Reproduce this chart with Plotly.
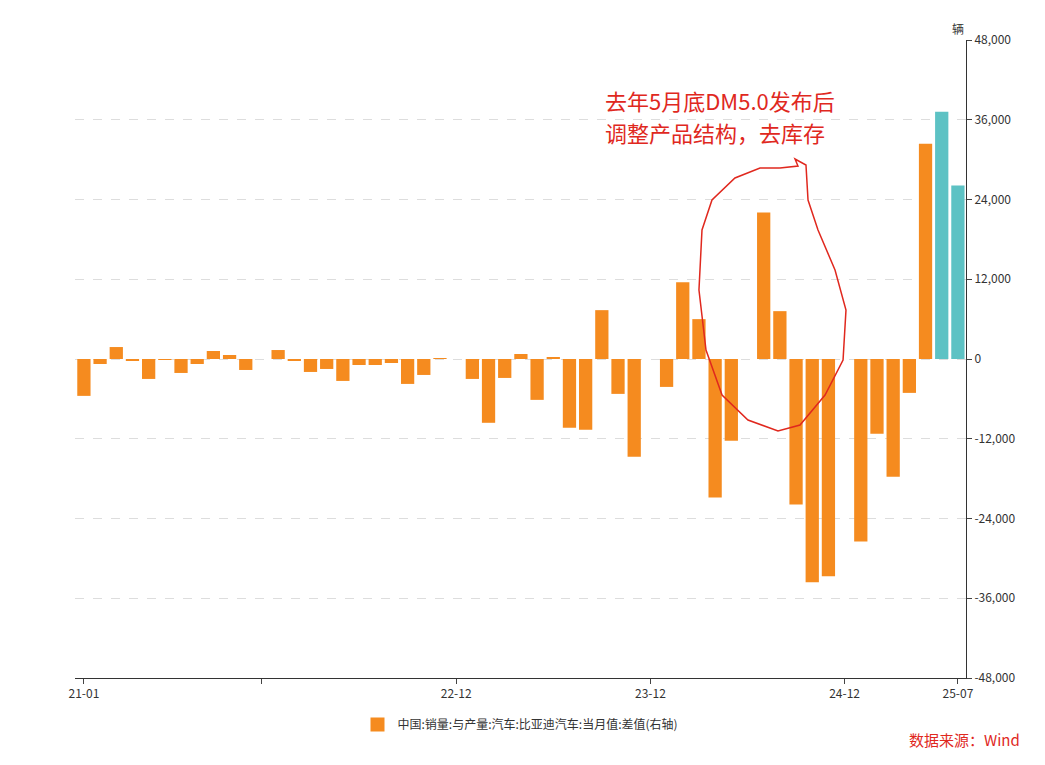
import plotly.graph_objects as go

months = []
for y in range(21, 26):
    for m in range(1, 13):
        months.append(f"{y:02d}-{m:02d}")
months = months[:55]
values = [-5550, -750, 1800, -300, -3000, -100, -2100, -750, 1200, 600, -1650, 0,
          1350, -300, -1950, -1500, -3300, -900, -900, -600, -3750, -2400, 150, 0,
          -3000, -9600, -2850, 750, -6150, 300, -10350, -10650, 7350, -5250, -14700, 0,
          -4200, 11550, 6000, -20850, -12300, 0, 22050, 7200, -21900, -33600, -32700, 0,
          -27450, -11250, -17700, -5100, 32400, 37200, 26100]
colors = ["#F58B1F"] * 53 + ["#5DC2C4"] * 2
tick_idx = [0, 11, 23, 35, 47, 54]
tick_text = ["21-01", "", "22-12", "23-12", "24-12", "25-07"]
y_ticks = list(range(-48000, 48001, 12000))

font = "Noto Sans CJK SC"
fig = go.Figure()
fig.add_bar(x=list(range(len(values))), y=values, marker_color=colors, marker_line_width=0,
            width=0.82, name="中国:销量:与产量:汽车:比亚迪汽车:当月值:差值(右轴)",
            showlegend=False)
fig.add_scatter(x=[None], y=[None], mode="markers",
                marker=dict(symbol="square", size=14, color="#F58B1F"),
                name="中国:销量:与产量:汽车:比亚迪汽车:当月值:差值(右轴)")

W, H = 1045, 765
OFF = 8
L, R, T, B = 75, 966, 40, 678
def px(x, y):
    return (x - L) / (R - L), (B - y) / (B - T)
pts = [(780, 168), (798, 166), (795, 159), (806, 165), (808, 200), (818, 230), (835, 270),
       (846, 310), (843, 360), (825, 395), (800, 425), (778, 431), (748, 420), (722, 395),
       (706, 350), (699, 290), (702, 230), (712, 200), (735, 178), (760, 168), (780, 168)]
path = "M " + " L ".join(f"{px(a,b)[0]:.4f},{px(a,b)[1]:.4f}" for a, b in pts)
fig.add_shape(type="path", path=path, xref="paper", yref="paper",
              line=dict(color="#E0281E", width=1.5))

fig.add_annotation(x=px(603, 0)[0], y=px(0, 100)[1], xref="paper", yref="paper",
                   text="去年5月底DM5.0发布后", showarrow=False,
                   xanchor="left", yanchor="middle", align="left",
                   font=dict(size=22, color="#E0281E", family=font))
fig.add_annotation(x=px(603, 0)[0], y=px(0, 132)[1], xref="paper", yref="paper",
                   text="调整产品结构，去库存", showarrow=False,
                   xanchor="left", yanchor="middle", align="left",
                   font=dict(size=22, color="#E0281E", family=font))
fig.add_annotation(x=px(966, 0)[0], y=px(0, 18)[1], xref="paper", yref="paper",
                   text="辆", showarrow=False, font=dict(size=12, color="#333"))
fig.add_annotation(x=px(1022, 0)[0], y=px(0, 752)[1], xref="paper", yref="paper",
                   text="数据来源：Wind", showarrow=False, xanchor="right",
                   font=dict(size=15, color="#E0281E", family=font))

fig.update_layout(
    width=W, height=H, plot_bgcolor="white", paper_bgcolor="white",
    margin=dict(l=L - OFF, r=W - R + OFF, t=T - OFF, b=H - B + OFF),
    font=dict(family=font, size=12, color="#333"),
    xaxis=dict(range=[-0.55, 54.5], tickvals=tick_idx, ticktext=tick_text, showgrid=False,
               showline=True, linecolor="#333", ticks="outside", ticklen=5, zeroline=False),
    yaxis=dict(side="right", range=[-48000, 48000], tickvals=y_ticks,
               ticktext=[f"{v:,}" for v in y_ticks], showgrid=True, gridcolor="#ddd",
               griddash="dash", showline=True, linecolor="#333", ticks="outside", ticklen=5,
               zeroline=False),
    legend=dict(orientation="h", x=0.5, xanchor="center", y=-0.05, yanchor="top",
                font=dict(size=12)),
)
fig.write_html("out.html")
